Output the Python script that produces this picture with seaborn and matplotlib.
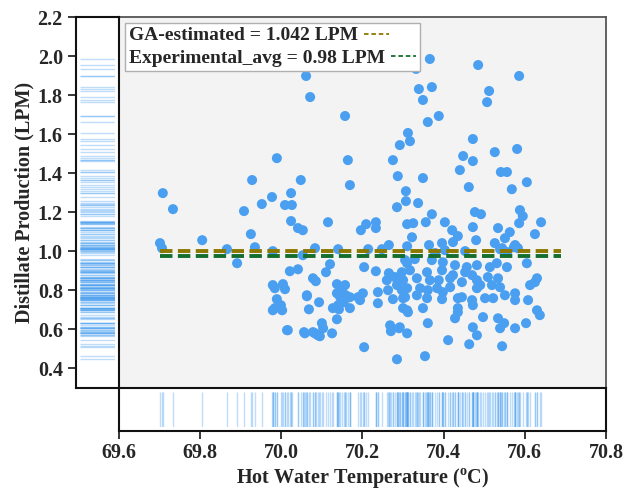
import matplotlib
matplotlib.use("Agg")
import pandas as pd
import matplotlib.pyplot as plt
from matplotlib.lines import Line2D
import seaborn as sns

# hot water temperature (C) and distillate production (LPM)
temp = [69.701, 69.706, 69.708, 69.733, 69.805, 69.866, 69.891, 69.925, 69.935, 69.908,
        69.979, 69.928, 69.952, 69.977, 69.989, 70.009, 70.024, 70.026, 70.024, 70.048,
        70.041, 70.053, 70.061, 70.071, 70.083, 70.157, 70.164, 70.169, 70.275, 70.292,
        70.312, 70.317, 70.287, 70.307, 70.307, 70.285, 70.337, 70.349, 70.361, 70.388,
        70.349, 70.339, 70.371, 70.366, 70.332, 70.485, 70.512, 70.507, 70.586, 70.472,
        70.448, 70.472, 70.440, 70.462, 70.526, 70.581, 70.541, 70.556, 70.568, 70.605,
        70.588, 70.595, 70.586, 70.640, 70.625, 70.477, 70.492, 70.472, 70.534, 70.563,
        70.551, 70.526, 70.403, 70.421, 70.435, 70.356, 70.371, 70.310, 70.325, 70.322,
        70.115, 70.196, 70.209, 70.233, 70.233, 70.265, 70.310, 70.364, 70.396, 70.423,
        70.480, 70.544, 70.573, 70.140, 70.214, 70.248, 70.576, 70.583, 70.403, 70.453,
        70.539, 70.556, 70.379,
        70.021, 70.041, 69.979, 69.984, 69.989, 69.984, 69.999, 69.979, 70.014, 70.053,
        70.078, 70.085, 70.063, 70.068, 70.093, 70.056, 70.078, 70.090, 70.004, 70.009,
        70.120, 70.110, 70.204, 70.233, 70.265, 70.260, 70.280, 70.287, 70.297, 70.310,
        70.297, 70.300, 70.275, 70.285, 70.137, 70.150, 70.157, 70.137, 70.145, 70.159,
        70.169, 70.154, 70.140, 70.127, 70.142, 70.169, 70.189, 70.201, 70.194, 70.063,
        70.002, 70.137, 70.100, 70.103, 70.083, 70.125, 70.095, 70.058, 70.016, 70.204,
        70.285, 70.268, 70.270, 70.290, 70.310, 70.238, 70.238, 70.263, 70.310,
        70.305, 70.329, 70.371, 70.398, 70.428, 70.457, 70.482, 70.514, 70.531, 70.556,
        70.605, 70.317, 70.359, 70.396, 70.423, 70.453, 70.470, 70.300, 70.334, 70.366,
        70.388, 70.416, 70.445, 70.482, 70.509, 70.534, 70.519, 70.539, 70.613, 70.630,
        70.625, 70.310, 70.342, 70.361, 70.384, 70.398, 70.416, 70.482, 70.490, 70.305,
        70.334, 70.359, 70.396, 70.435, 70.445, 70.470, 70.502, 70.522, 70.551, 70.576,
        70.576, 70.608, 70.300, 70.312, 70.349, 70.435, 70.472, 70.630, 70.637, 70.428,
        70.435, 70.497, 70.534, 70.539, 70.549, 70.576, 70.603, 70.361, 70.472, 70.482,
        70.292, 70.411, 70.463, 70.544, 70.354]
prod = [1.042, 1.016, 1.298, 1.216, 1.057, 1.011, 0.939, 1.088, 1.021, 1.206,
        1.001, 1.365, 1.242, 1.278, 1.477, 1.237, 1.298, 1.237, 1.155, 1.365,
        1.119, 1.108, 1.898, 1.790, 1.016, 1.693, 1.467, 1.339, 1.467, 1.544,
        1.606, 1.564, 1.385, 1.308, 1.257, 1.226, 1.247, 1.375, 1.662, 1.693,
        1.775, 1.831, 1.841, 1.985, 1.934, 1.954, 1.821, 1.764, 1.898, 1.575,
        1.488, 1.462, 1.416, 1.329, 1.508, 1.524, 1.406, 1.406, 1.318, 1.354,
        1.211, 1.180, 1.144, 1.149, 1.088, 1.201, 1.190, 1.124, 1.119, 1.098,
        1.067, 1.042, 1.149, 1.108, 1.078, 1.149, 1.190, 1.139, 1.144, 1.072,
        1.149, 1.108, 1.139, 1.149, 1.119, 1.032, 1.026, 1.032, 1.042, 1.047,
        1.057, 1.016, 1.021, 1.011, 1.011, 1.011, 1.032, 1.016, 1.006, 1.001,
        1.011, 0.996, 0.991,
        0.898, 0.908, 0.827, 0.811, 0.755, 0.709, 0.724, 0.698, 0.596, 0.980,
        0.862, 0.847, 0.775, 0.703, 0.739, 0.586, 0.586, 0.570, 0.832, 0.806,
        0.934, 0.893, 0.919, 0.898, 0.888, 0.852, 0.868, 0.842, 0.893, 0.939,
        0.801, 0.760, 0.755, 0.827, 0.832, 0.811, 0.827, 0.785, 0.765, 0.775,
        0.765, 0.739, 0.724, 0.709, 0.703, 0.709, 0.765, 0.785, 0.750, 0.770,
        0.698, 0.652, 0.632, 0.606, 0.580, 0.580, 0.565, 0.580, 0.596, 0.509,
        0.447, 0.621, 0.591, 0.606, 0.580, 0.791, 0.734, 0.801, 0.698,
        0.955, 0.960, 0.955, 0.944, 0.929, 0.919, 0.929, 0.919, 0.939, 0.919,
        0.939, 0.903, 0.893, 0.903, 0.878, 0.893, 0.878, 0.852, 0.862, 0.852,
        0.852, 0.862, 0.842, 0.852, 0.868, 0.862, 0.827, 0.816, 0.827, 0.862,
        0.842, 0.811, 0.811, 0.801, 0.811, 0.791, 0.816, 0.811, 0.827, 0.765,
        0.775, 0.760, 0.755, 0.760, 0.765, 0.750, 0.760, 0.760, 0.775, 0.785,
        0.750, 0.750, 0.709, 0.688, 0.709, 0.709, 0.724, 0.698, 0.673, 0.657,
        0.688, 0.663, 0.657, 0.606, 0.632, 0.606, 0.632, 0.632, 0.611, 0.570,
        0.611, 0.545, 0.524, 0.514, 0.463]

ga_value = 1.0
exp_value = 0.975
line_x = [69.70, 70.69]
ga_label = "GA-estimated = 1.042 LPM"
exp_label = "Experimental_avg = 0.98 LPM"
x_ticks = [69.6, 69.8, 70.0, 70.2, 70.4, 70.6, 70.8]
y_ticks = [0.4, 0.6, 0.8, 1.0, 1.2, 1.4, 1.6, 1.8, 2.0, 2.2]

data = pd.DataFrame({"Temp": temp, "Prod": prod})

sns.set_style("ticks")
plt.rcParams["font.family"] = ["Liberation Serif", "DejaVu Serif"]
plt.rcParams["font.weight"] = "bold"
plt.rcParams["mathtext.fontset"] = "custom"
plt.rcParams["mathtext.rm"] = "Liberation Serif:bold"
plt.rcParams["mathtext.bf"] = "Liberation Serif:bold"

blue = "#4a9ff0"
olive = "#8c7800"
green = "#146e2d"

fig = plt.figure(figsize=(6.34, 4.90), dpi=100)
ax = fig.add_axes([0.1877, 0.2082, 0.7681, 0.7571])
ax_y = fig.add_axes([0.1199, 0.2082, 0.0678, 0.7571], sharey=ax)
ax_x = fig.add_axes([0.1877, 0.1204, 0.7681, 0.0878], sharex=ax)

ax.set_facecolor("#f3f3f3")
sns.scatterplot(data=data, x="Temp", y="Prod", ax=ax, color=blue, s=52,
                edgecolor="none", zorder=3)
sns.lineplot(x=line_x, y=[ga_value] * 2, ax=ax, color=olive, lw=2.8,
             linestyle=(0, (3.2, 1.4)), zorder=4)
sns.lineplot(x=line_x, y=[exp_value] * 2, ax=ax, color=green, lw=2.8,
             linestyle=(0, (3.2, 1.4)), zorder=4)

handles = [Line2D([], [], color=olive, lw=1.3, linestyle=(0, (2.5, 1.6))),
           Line2D([], [], color=green, lw=1.3, linestyle=(0, (2.5, 1.6)))]
leg = ax.legend(handles, [ga_label, exp_label], loc="upper left", markerfirst=False,
                fancybox=False, framealpha=1, edgecolor="#b0b0b0",
                fontsize=14, handlelength=1.3, handletextpad=0.3, labelspacing=0.25,
                borderpad=0.2, borderaxespad=0.3)
# text first, handle right after it, rows aligned on the left
for col in leg._legend_handle_box.get_children():
    col.align = "left"
leg.get_frame().set_linewidth(1.0)

# rugs in the margins
rx = ax_x.inset_axes([0, 0.09, 1, 0.82], sharex=ax)
sns.rugplot(data=data, x="Temp", ax=rx, height=1, color=blue, alpha=0.35, lw=0.9,
            expand_margins=False)
ry = ax_y.inset_axes([0.09, 0, 0.82, 1], sharey=ax)
sns.rugplot(data=data, y="Prod", ax=ry, height=1, color=blue, alpha=0.35, lw=0.9,
            expand_margins=False)
for r in (rx, ry):
    r.set_xlabel("")
    r.set_ylabel("")
    r.tick_params(left=False, bottom=False, labelleft=False, labelbottom=False)
    r.axis("off")

ax.set_xlim(69.6, 70.8)
ax.set_ylim(0.3, 2.2)
ax.set_xlabel("")
ax.set_ylabel("")
ax.tick_params(left=False, bottom=False, labelleft=False, labelbottom=False)
for s in ax.spines.values():
    s.set_color("#555555")
    s.set_linewidth(1.3)

ax_y.set_yticks(y_ticks)
ax_y.tick_params(axis="y", length=5.5, width=1.3, labelsize=14.5, pad=4)
ax_y.tick_params(axis="x", bottom=False, labelbottom=False)
ax_y.set_ylabel("Distillate Production (LPM)", fontsize=14.5, fontweight="bold",
                labelpad=2)

ax_x.set_xticks(x_ticks)
ax_x.tick_params(axis="x", length=5.5, width=1.3, labelsize=14.5, pad=3)
ax_x.tick_params(axis="y", left=False, labelleft=False)
ax_x.set_xlabel(r"Hot Water Temperature ($^{\mathbf{o}}$C)", fontsize=14.5,
                fontweight="bold", labelpad=2)

for a in (ax_x, ax_y):
    for s in a.spines.values():
        s.set_color("#111111")
        s.set_linewidth(1.5)

fig.savefig("out.png", dpi=100)
